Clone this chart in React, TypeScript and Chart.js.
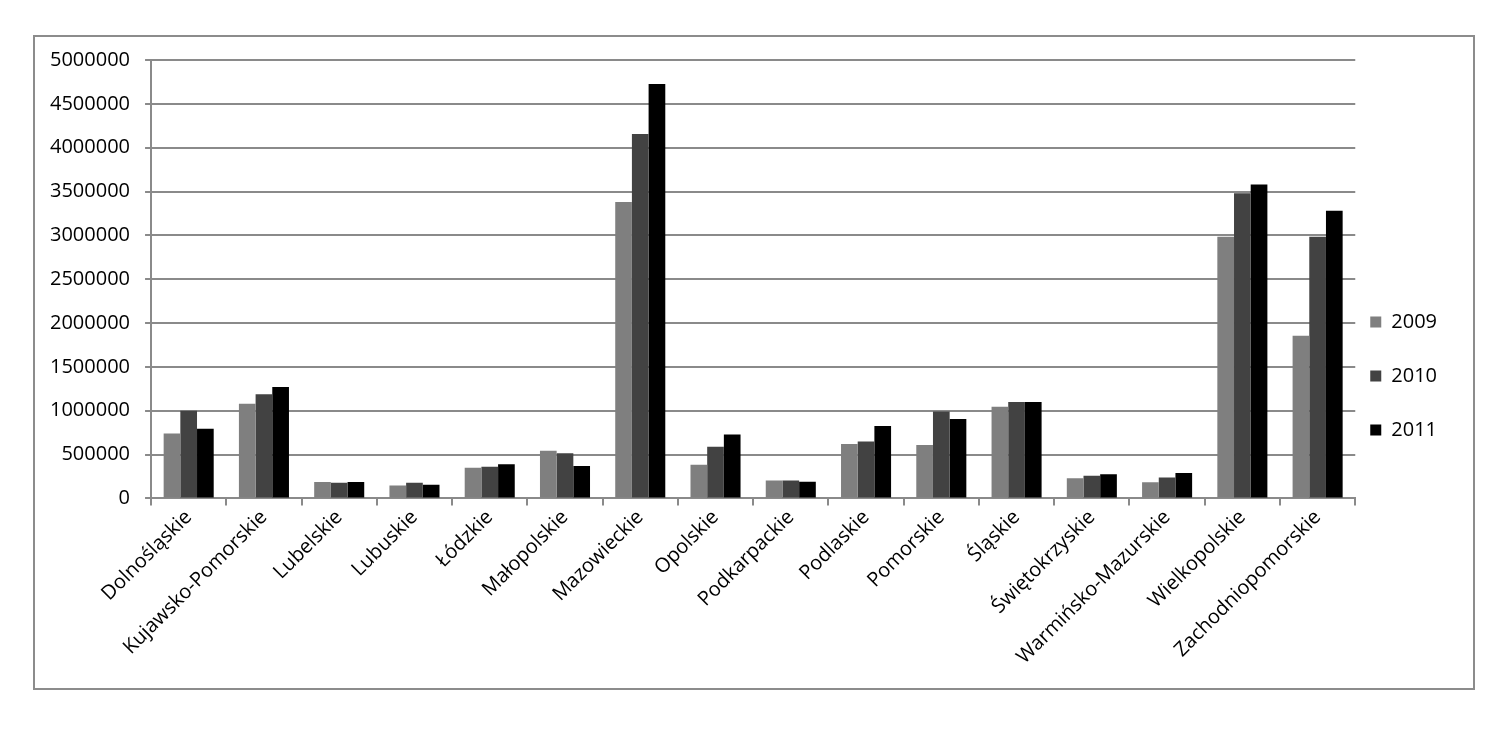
import React, { useEffect, useRef } from "react";
import { Chart, registerables } from "chart.js";

Chart.register(...registerables);

const categories = [
  "Dolnośląskie",
  "Kujawsko-Pomorskie",
  "Lubelskie",
  "Lubuskie",
  "Łódzkie",
  "Małopolskie",
  "Mazowieckie",
  "Opolskie",
  "Podkarpackie",
  "Podlaskie",
  "Pomorskie",
  "Śląskie",
  "Świętokrzyskie",
  "Warmińsko-Mazurskie",
  "Wielkopolskie",
  "Zachodniopomorskie",
];

const values2009 = [740000, 1080000, 186000, 148000, 350000, 545000, 3380000, 385000, 205000, 620000, 610000, 1045000, 230000, 185000, 2985000, 1855000];
const values2010 = [1000000, 1187000, 180000, 180000, 360000, 515000, 4155000, 590000, 205000, 650000, 990000, 1100000, 260000, 240000, 3480000, 2985000];
const values2011 = [795000, 1271000, 186000, 155000, 390000, 370000, 4725000, 730000, 190000, 825000, 905000, 1100000, 275000, 290000, 3580000, 3280000];

const seriesLabels = ["2009", "2010", "2011"];
const seriesColors = ["#7f7f7f", "#424242", "#000000"];

const FONT = "'Open Sans', 'Noto Sans', sans-serif";
const LEGEND_PADDING = 34;

const legendShift = {
  id: "legendShift",
  afterLayout(chart: any) {
    const l = chart.legend;
    if (!l) return;
    const dx = chart.chartArea.right + 15 - LEGEND_PADDING - l.left;
    l.left += dx;
    l.right += dx;
    l.top += 22;
    l.bottom += 22;
  },
};

export default function App() {
  const canvasRef = useRef<HTMLCanvasElement | null>(null);

  useEffect(() => {
    if (!canvasRef.current) return;
    const chart = new Chart(canvasRef.current, {
      type: "bar",
      data: {
        labels: categories,
        datasets: [values2009, values2010, values2011].map((d, i) => ({
          label: seriesLabels[i],
          data: d,
          backgroundColor: seriesColors[i],
          borderWidth: 0,
          barPercentage: 1,
          categoryPercentage: 0.665,
        })),
      },
      options: {
        responsive: false,
        animation: false,
        maintainAspectRatio: false,
        layout: { padding: { left: 0, top: 6, right: 7, bottom: 19 } },
        plugins: {
          tooltip: { enabled: false },
          legend: {
            position: "right",
            align: "center",
            labels: {
              boxWidth: 11,
              boxHeight: 11,
              padding: LEGEND_PADDING,
              color: "#000",
              font: { family: FONT, size: 20 },
            },
          },
        },
        scales: {
          x: {
            grid: {
              display: true,
              offset: true,
              drawOnChartArea: false,
              drawTicks: true,
              tickLength: 7,
              color: "#8a8a8a",
              lineWidth: 2,
            },
            border: { display: true, color: "#8a8a8a", width: 2 },
            ticks: {
              color: "#000",
              font: { family: FONT, size: 20 },
              minRotation: 45,
              maxRotation: 45,
              autoSkip: false,
              padding: 0,
            },
          },
          y: {
            min: 0,
            max: 5000000,
            grid: {
              color: "#8a8a8a",
              lineWidth: 2,
              drawTicks: true,
              tickLength: 6,
            },
            border: { display: true, color: "#8a8a8a", width: 2 },
            ticks: {
              stepSize: 500000,
              color: "#000",
              padding: 15,
              font: { family: FONT, size: 20 },
              callback: (v: any) => String(v),
            },
          },
        },
      },
      plugins: [legendShift],
    });
    return () => chart.destroy();
  }, []);

  return (
    <div
      style={{
        marginLeft: 25,
        marginTop: 27,
        width: 1442,
        height: 655,
        border: "2px solid #8c8c8c",
        boxSizing: "border-box",
        background: "#fff",
        overflow: "hidden",
      }}
    >
      <canvas
        ref={canvasRef}
        width={1438}
        height={655}
        style={{ display: "block", marginTop: -4 }}
      />
    </div>
  );
}
